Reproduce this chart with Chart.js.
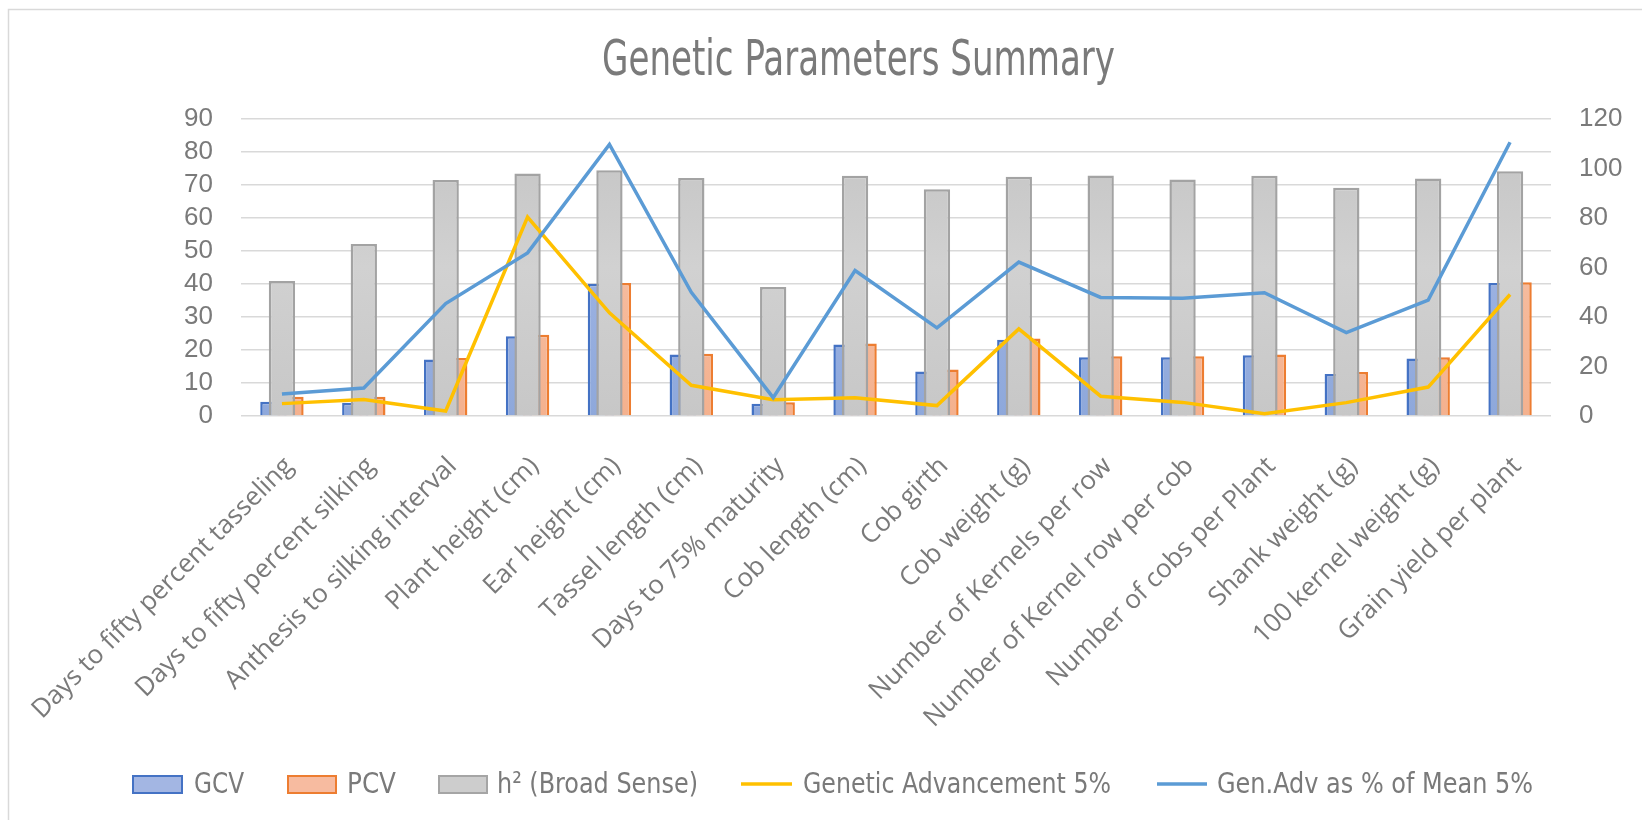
<!DOCTYPE html>
<html>
<head>
<meta charset="utf-8">
<script src="https://cdn.jsdelivr.net/npm/chart.js@4"></script>
<style>
  html, body { margin: 0; padding: 0; background: #fff; }
  #wrap { width: 1642px; height: 820px; position: relative; }
</style>
</head>
<body>
<div id="wrap"><canvas id="paramChart"></canvas></div>
<script>
const categories = [
    'Days to fifty percent tasseling', 'Days to fifty percent silking', 'Anthesis to silking interval',
    'Plant height (cm)', 'Ear height (cm)', 'Tassel length (cm)', 'Days to 75% maturity',
    'Cob length (cm)', 'Cob girth', 'Cob weight (g)', 'Number of Kernels per row',
    'Number of Kernel row per cob', 'Number of cobs per Plant', 'Shank weight (g)',
    '100 kernel weight (g)', 'Grain yield per plant'
];
const gcv = [4.3, 4.0, 17.1, 24.2, 40.1, 18.6, 3.7, 21.7, 13.5, 23.1, 17.8, 17.8, 18.4, 12.7, 17.4, 40.3];
const pcv = [5.8, 5.8, 17.6, 24.6, 40.3, 18.9, 4.2, 22.0, 14.1, 23.5, 18.1, 18.1, 18.6, 13.3, 17.8, 40.5];
const h2 = [40.9, 52.1, 71.5, 73.5, 74.5, 72.1, 39.1, 72.8, 68.7, 72.5, 72.9, 71.7, 72.8, 69.2, 72.0, 74.2];
const geneticAdv = [5.0, 6.7, 2.0, 80.4, 41.7, 12.4, 6.6, 7.4, 4.2, 35.2, 8.0, 5.5, 0.9, 5.4, 11.7, 49.1];
const genAdvMean = [8.9, 11.3, 45.4, 65.9, 109.7, 50.0, 7.4, 58.8, 35.6, 62.2, 47.9, 47.6, 49.8, 33.7, 46.8, 110.6];

const seriesNames = ['GCV', 'PCV', 'h\u00b2 (Broad Sense)', 'Genetic Advancement 5%', 'Gen.Adv as % of Mean 5%'];
const textGray = '#7a7a7a';
const narrowFont = "'Liberation Sans Narrow', 'DejaVu Sans Condensed', 'Liberation Sans', sans-serif";

// vertical gradient over the plot area, like the Excel fill
function barFill(top, mid, bottom) {
    return function(context) {
        const area = context.chart.chartArea;
        if (!area) return mid;
        const g = context.chart.ctx.createLinearGradient(0, area.top, 0, area.bottom);
        g.addColorStop(0, top);
        g.addColorStop(0.5, mid);
        g.addColorStop(1, bottom);
        return g;
    };
}

// the original uses a condensed face, so squeeze text to the width it had
function fitText(ctx, text, x, y, width) {
    const w = ctx.measureText(text).width;
    ctx.save();
    ctx.translate(x, y);
    ctx.scale(width / w, 1);
    ctx.fillText(text, 0, 0);
    ctx.restore();
}

const frameAndTitle = {
    id: 'frameAndTitle',
    beforeDraw(chart) {
        const ctx = chart.ctx;
        ctx.save();
        ctx.fillStyle = '#fff';
        ctx.fillRect(0, 0, chart.width, chart.height);
        ctx.strokeStyle = '#d9d9d9';
        ctx.lineWidth = 1.5;
        ctx.beginPath();
        ctx.moveTo(8.5, chart.height);
        ctx.lineTo(8.5, 9.5);
        ctx.lineTo(chart.width, 9.5);
        ctx.stroke();
        ctx.restore();
    },
    afterDraw(chart) {
        const ctx = chart.ctx;
        ctx.save();
        ctx.fillStyle = textGray;
        ctx.textBaseline = 'alphabetic';
        ctx.font = '50px ' + narrowFont;
        fitText(ctx, 'Genetic Parameters Summary', 602, 75, 513);

        // legend along the bottom
        const items = [
            { box: [133, 776, 49, 17], fill: '#a3b6e3', stroke: '#4472c4', tx: 194, tw: 50 },
            { box: [288, 776, 48, 17], fill: '#f7bba0', stroke: '#ed7d31', tx: 347, tw: 49 },
            { box: [439, 776, 48, 17], fill: '#cdcdcd', stroke: '#a5a5a5', tx: 497, tw: 201 },
            { line: [741, 792, 784], stroke: '#ffc000', tx: 803, tw: 308 },
            { line: [1157, 1207, 784], stroke: '#5b9bd5', tx: 1217, tw: 316 }
        ];
        ctx.font = '29px ' + narrowFont;
        items.forEach((it, i) => {
            if (it.box) {
                ctx.fillStyle = it.fill;
                ctx.fillRect(it.box[0], it.box[1], it.box[2], it.box[3]);
                ctx.strokeStyle = it.stroke;
                ctx.lineWidth = 2;
                ctx.strokeRect(it.box[0], it.box[1], it.box[2], it.box[3]);
            } else {
                ctx.strokeStyle = it.stroke;
                ctx.lineWidth = 3.5;
                ctx.beginPath();
                ctx.moveTo(it.line[0], it.line[2]);
                ctx.lineTo(it.line[1], it.line[2]);
                ctx.stroke();
            }
            ctx.fillStyle = textGray;
            fitText(ctx, seriesNames[i], it.tx, 793, it.tw);
        });
        ctx.restore();
    }
};

// h² bars sit in the middle but overlap both neighbours, so draw them (and the lines) last
const drawOrder = {
    id: 'drawOrder',
    beforeDatasetDraw(chart, args) {
        if (chart.$lateDraw) return;
        if (args.index <= 2) return false;
    },
    afterDatasetsDraw(chart) {
        chart.$lateDraw = true;
        [2, 0, 1].forEach(i => chart.getDatasetMeta(i).controller.draw());
        chart.$lateDraw = false;
    }
};

document.addEventListener('DOMContentLoaded', function() {
    const ctx = document.getElementById('paramChart').getContext('2d');
    const paramChart = new Chart(ctx, {
        type: 'bar',
        data: {
            labels: categories,
            datasets: [
                {
                    type: 'line',
                    label: seriesNames[3],
                    data: geneticAdv,
                    yAxisID: 'y1',
                    borderColor: '#ffc000',
                    borderWidth: 3.5,
                    pointRadius: 0,
                    tension: 0,
                    order: 0
                },
                {
                    type: 'line',
                    label: seriesNames[4],
                    data: genAdvMean,
                    yAxisID: 'y1',
                    borderColor: '#5b9bd5',
                    borderWidth: 3.5,
                    pointRadius: 0,
                    tension: 0,
                    order: 0
                },
                {
                    label: seriesNames[2],
                    data: h2,
                    yAxisID: 'y',
                    backgroundColor: barFill('#c3c3c3', '#d1d1d1', '#c7c7c7'),
                    borderColor: '#a3a3a3',
                    borderWidth: 2.5,
                    order: 2
                },
                {
                    label: seriesNames[0],
                    data: gcv,
                    yAxisID: 'y',
                    backgroundColor: barFill('#8aa4d8', '#9cb2e2', '#8ea8db'),
                    borderColor: '#4472c4',
                    borderWidth: 2.5,
                    order: 1
                },
                {
                    label: seriesNames[1],
                    data: pcv,
                    yAxisID: 'y',
                    backgroundColor: barFill('#f3ad89', '#f6bc9f', '#f4b18e'),
                    borderColor: '#ed7d31',
                    borderWidth: 2.5,
                    order: 3
                }
            ]
        },
        options: {
            responsive: true,
            maintainAspectRatio: false,
            animation: false,
            layout: { padding: { top: 119, left: 0, right: 0, bottom: 0 } },
            datasets: {
                bar: { categoryPercentage: 0.313, barPercentage: 3.08 }
            },
            plugins: {
                legend: { display: false },
                title: { display: false },
                tooltip: { enabled: false }
            },
            scales: {
                x: {
                    type: 'category',
                    offset: true,
                    grid: { display: false },
                    border: { display: false },
                    ticks: {
                        color: textGray,
                        font: { family: "'Open Sans', sans-serif", size: 26 },
                        minRotation: 45,
                        maxRotation: 45,
                        autoSkip: false,
                        padding: 27,
                        labelOffset: 7
                    },
                    afterFit: function(scale) {
                        scale.height = 404;
                        scale.paddingLeft = 0;
                        scale.paddingRight = 0;
                    }
                },
                y: {
                    position: 'left',
                    min: 0,
                    max: 90,
                    ticks: {
                        stepSize: 10,
                        autoSkip: false,
                        padding: 28,
                        color: textGray,
                        font: { family: "'Liberation Sans', sans-serif", size: 26 }
                    },
                    grid: { color: '#d9d9d9', lineWidth: 1.5, drawTicks: false },
                    border: { display: false },
                    afterFit: function(scale) { scale.width = 241; }
                },
                y1: {
                    position: 'right',
                    min: 0,
                    max: 120,
                    ticks: {
                        stepSize: 20,
                        autoSkip: false,
                        padding: 28,
                        color: textGray,
                        font: { family: "'Liberation Sans', sans-serif", size: 26 }
                    },
                    grid: { display: false, drawTicks: false },
                    border: { display: false },
                    afterFit: function(scale) { scale.width = 91; }
                }
            }
        },
        plugins: [frameAndTitle, drawOrder]
    });
});
</script>
</body>
</html>
